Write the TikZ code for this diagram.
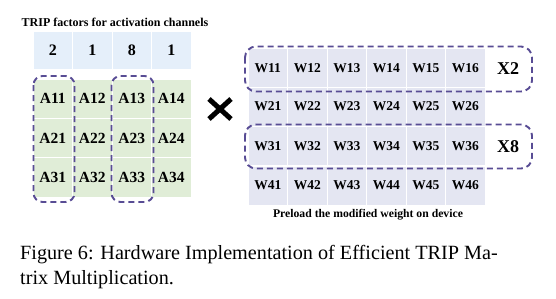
\documentclass[tikz,border=0pt]{standalone}
\usepackage{fontspec}
\setmainfont{Liberation Serif}
\usetikzlibrary{shadows}
\definecolor{fblue}{HTML}{E5EFFA}
\definecolor{agreen}{HTML}{E0EDD7}
\definecolor{wlav}{HTML}{E4E6F2}
\definecolor{dpurple}{HTML}{584C94}
\begin{document}
\begin{tikzpicture}[x=1pt,y=-1pt,
 cell/.style={draw=white, line width=0.6pt, minimum width=39.5pt, minimum height=39pt, inner sep=0pt,
   drop shadow={shadow xshift=1.4pt, shadow yshift=-1.4pt, fill=black!55, opacity=0.75}},
 fcell/.style={cell, fill=fblue, minimum height=38pt, font=\fontsize{16}{16}\selectfont\bfseries},
 acell/.style={cell, fill=agreen, minimum height=39.3pt, font=\fontsize{15.5}{16}\selectfont\bfseries},
 wcell/.style={cell, fill=wlav, font=\fontsize{13.5}{14}\selectfont\bfseries},
 grp/.style={draw=dpurple, line width=1.9pt, dash pattern=on 6pt off 4pt, rounded corners=9pt},
 lbl/.style={inner sep=0pt, font=\fontsize{12}{12}\selectfont\bfseries},
 mult/.style={font=\fontsize{18}{18}\selectfont\bfseries, inner sep=0pt},
 captxt/.style={inner sep=0pt, anchor=base west, font=\fontsize{20.2}{24}\selectfont}]
\useasboundingbox (0,0) rectangle (556,298);
\fill[white] (0,0) rectangle (556,298);
% title
\node[lbl] (title) at (115,22) {TRIP factors for activation channels};
% factor row
\foreach \v [count=\i] in {2,1,8,1}
  \node[fcell] (f\i) at ({33+19.75+(\i-1)*39.5},50) {\v};
% A matrix
\foreach \r in {1,2,3}
  \foreach \c in {1,2,3,4}
    \node[acell] (a\r\c) at ({33+19.75+(\c-1)*39.5},{79+19.65+(\r-1)*39.3}) {A\r\c};
\draw[grp] (33.5,76) rectangle (74.5,202);
\draw[grp] (111.5,76) rectangle (153.5,202);
% multiply sign
\draw[line width=5pt] (209,99) -- (231,119) (231,99) -- (209,119);
% W matrix
\foreach \r/\y in {1/68,2/106.5,3/146,4/185.5}
  \foreach \c in {1,...,6}
    \node[wcell] (w\r\c) at ({248+19.75+(\c-1)*39.5},\y) {W\r\c};
\draw[grp, rounded corners=11pt] (245,46.5) rectangle (532,91.5);
\draw[grp, rounded corners=11pt] (245,124.5) rectangle (532,168.5);
\node[mult] (x2) at (508,69) {X2};
\node[mult] (x8) at (508,147) {X8};
\node[lbl, font=\fontsize{11.7}{12}\selectfont\bfseries] (pre) at (368,215) {Preload the modified weight on device};
% caption
\node[captxt] (cap1) at (20,259) {Figure 6: Hardware Implementation of Efficient TRIP Ma-};
\node[captxt] (cap2) at (20,284) {trix Multiplication.};
\end{tikzpicture}
\end{document}
